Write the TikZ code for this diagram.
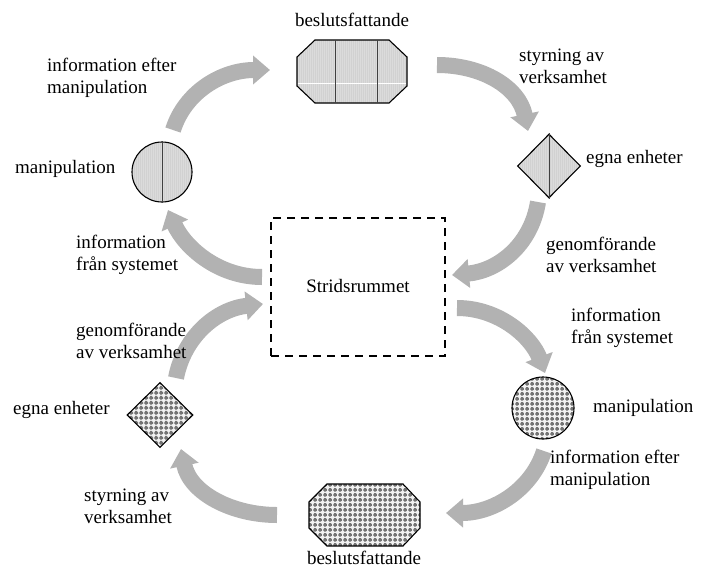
\documentclass[tikz,border=0pt]{standalone}
\usepackage{fontspec}
\setmainfont{Liberation Serif}
\newfontfamily\tnr{Liberation Serif}
\usetikzlibrary{arrows.meta,patterns,shapes.geometric}
\pgfdeclarepatternformonly{plusgrid}{\pgfqpoint{0pt}{0pt}}{\pgfqpoint{4.6pt}{4.6pt}}{\pgfqpoint{4.6pt}{4.6pt}}{%
 \pgfpathrectangle{\pgfqpoint{0.3pt}{1.3pt}}{\pgfqpoint{4.0pt}{2.0pt}}%
 \pgfpathrectangle{\pgfqpoint{1.3pt}{0.3pt}}{\pgfqpoint{2.0pt}{4.0pt}}%
 \pgfusepath{fill}}
\pgfdeclarepatternformonly{finevert}{\pgfqpoint{0pt}{0pt}}{\pgfqpoint{2.4pt}{2.4pt}}{\pgfqpoint{2.4pt}{2.4pt}}{%
 \pgfpathrectangle{\pgfqpoint{0pt}{0pt}}{\pgfqpoint{0.7pt}{2.4pt}}\pgfusepath{fill}}
\begin{document}
\begin{tikzpicture}[x=1pt,y=-1pt,
 flow/.style={line width=16pt, draw=gray!60, -{Triangle[width=28pt,length=17pt]}},
 light/.style={preaction={fill=gray!28}, preaction={pattern=finevert, pattern color=gray!40}, draw=black, line width=1.1pt},
 dark/.style={preaction={fill=gray!10}, preaction={pattern=plusgrid, pattern color=black!55}, draw=black, line width=1.1pt},
 inner/.style={draw=black!75, line width=0.8pt},
 lbl/.style={font=\tnr\fontsize{19}{22}\selectfont, inner sep=0pt, align=left}]
\useasboundingbox (0,0) rectangle (702,574);

% centre box
\node[draw=black, line width=1.6pt, dash pattern=on 8pt off 6pt, minimum width=174pt, minimum height=138pt, inner sep=0pt] (box) at (358,287) {};
\node[lbl] (strid) at (358,286) {Stridsrummet};

% top shapes
\draw[light] (297,57) -- (315,40) -- (389,40) -- (407,57) -- (407,86) -- (389,103) -- (315,103) -- (297,86) -- cycle;
\coordinate (octT) at (352,71.5);
\draw[white, line width=0.8pt] (297.6,83) -- (406.4,83);
\draw[inner] (335,40) -- (335,103);
\draw[inner] (377,40) -- (377,103);
\node[light, circle, minimum size=60pt, inner sep=0pt] (circT) at (162,172) {};
\draw[inner] (circT.north) -- (circT.south);
\node[light, diamond, minimum width=63pt, minimum height=64pt, inner sep=0pt] (diaT) at (549,166) {};
\draw[inner] (diaT.north) -- (diaT.south);

% bottom shapes
\draw[dark] (309,502) -- (327,484) -- (403,484) -- (420,502) -- (420,528) -- (403,546) -- (327,546) -- (309,528) -- cycle;
\coordinate (octB) at (364.5,515);
\node[dark, circle, minimum size=62pt, inner sep=0pt] (circB) at (543,408) {};
\node[dark, diamond, minimum width=66pt, minimum height=65pt, inner sep=0pt] (diaB) at (160,415) {};

% arrows
\draw[flow] (173,130) .. controls (185,92) and (222,70) .. (270,70);
\draw[flow] (437,65) .. controls (482,65) and (519,87) .. (528,131);
\draw[flow] (538,202) .. controls (531,246) and (497,271) .. (452,275);
\draw[flow] (262,277) .. controls (217,277) and (184,246) .. (168,210);
\draw[flow] (457,308) .. controls (500,308) and (532,338) .. (545,373);
\draw[flow] (544,451) .. controls (532,489) and (494,513) .. (446,513);
\draw[flow] (277,515) .. controls (232,515) and (190,493) .. (181,449);
\draw[flow] (176,378) .. controls (184,336) and (217,309) .. (263,304);

% labels
\node[lbl] (lbT) at (352,20) {beslutsfattande};
\node[lbl] (lbB) at (364,558) {beslutsfattande};
\node[lbl, anchor=west] (l1) at (47,78) {information efter\\manipulation};
\node[lbl, anchor=west] (l2) at (519,66) {styrning av\\verksamhet};
\node[lbl, anchor=west] (l3) at (586,159) {egna enheter};
\node[lbl, anchor=west] (l4) at (15,169) {manipulation};
\node[lbl, anchor=west] (l5) at (76,255) {information\\från systemet};
\node[lbl, anchor=west] (l6) at (546,255) {genomförande\\av verksamhet};
\node[lbl, anchor=west] (l7) at (76,341) {genomförande\\av verksamhet};
\node[lbl, anchor=west] (l8) at (571,328) {information\\från systemet};
\node[lbl, anchor=west] (l9) at (593,408) {manipulation};
\node[lbl, anchor=west] (l10) at (13,410) {egna enheter};
\node[lbl, anchor=west] (l11) at (550,470) {information efter\\manipulation};
\node[lbl, anchor=west] (l12) at (84,506) {styrning av\\verksamhet};
\end{tikzpicture}
\end{document}
